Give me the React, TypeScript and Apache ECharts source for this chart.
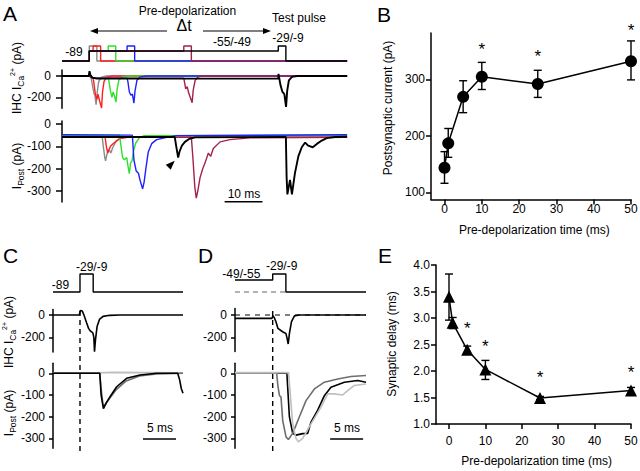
import React, { useEffect, useRef } from "react";
import * as echarts from "echarts";

const FONT = "'Liberation Sans', Arial, Helvetica, sans-serif";

// ---------- Panel B: postsynaptic current vs pre-depolarization time ----------
const preTimes = [0, 1, 5, 10, 25, 50];
const bMean = [143.5, 186.7, 269, 304.6, 291.7, 332];
const bUpper = [172, 213, 297.5, 330, 316, 368];
const bLower = [116, 162, 241, 282, 268, 299];
const bStars = [[10, 353], [25, 340], [50, 387]];
const bTicksY = [100, 200, 300];
const timeTicks = [0, 10, 20, 30, 40, 50];

// ---------- Panel E: synaptic delay vs pre-depolarization time ----------
const eMean = [3.4, 2.91, 2.4, 2.03, 1.49, 1.63];
const eUpper = [3.83, 3.01, 2.47, 2.2, 1.52, 1.69];
const eLower = [2.96, 2.8, 2.33, 1.84, 1.46, 1.57];
const eStars = [[5, 2.81], [10, 2.47], [25, 1.88], [50, 1.98]];

// ---------- Panel A: voltage protocols (levels: 0 = -89, 1 = pre, 1.5 = test) ----------
const aProtGray = [[-7.22, 0], [0, 0], [0, 1.5], [2, 1.5], [2, 0], [68.2, 0]];
const aProtRed = [[-7.22, 0], [0, 0], [0, 1], [1, 1], [1, 1.5], [3, 1.5], [3, 0], [68.2, 0]];
const aProtGreen = [[-7.22, 0], [0, 0], [0, 1], [5, 1], [5, 1.5], [7, 1.5], [7, 0], [68.2, 0]];
const aProtBlue = [[-7.22, 0], [0, 0], [0, 1], [10, 1], [10, 1.5], [12, 1.5], [12, 0], [68.2, 0]];
const aProtMaroon = [[-7.22, 0], [0, 0], [0, 1], [25, 1], [25, 1.5], [27, 1.5], [27, 0], [68.2, 0]];
const aProtBlack = [[-7.22, 0], [0, 0], [0, 1], [50, 1], [50, 1.5], [52, 1.5], [52, 0], [68.2, 0]];

// Panel A: IHC Ca current (ms, pA)
const aCaGray = [[-7.22, 2], [-0.1, 2], [0.05, 30], [0.3, 5], [0.6, -40], [1.0, -120], [1.3, -170], [1.5, -180], [1.8, -270], [2.1, -150], [2.5, -50], [3.2, -12], [4.5, 0], [68.2, 0]];
const aCaRed = [[-7.22, 0], [0, 0], [0.05, 30], [0.3, 0], [1.0, -20], [1.2, -60], [1.6, -170], [2.0, -220], [2.3, -170], [2.7, -230], [3.25, -300], [3.5, -150], [3.9, -50], [4.6, -10], [6, 0], [68.2, 0]];
const aCaGreen = [[-7.22, 0], [0, 0], [0.05, 25], [0.3, -10], [1, -20], [5, -20], [5.2, -50], [5.6, -140], [6.0, -200], [6.3, -150], [6.7, -190], [7.05, -245], [7.35, -130], [7.8, -40], [8.6, -10], [10, 0], [68.2, 0]];
const aCaBlue = [[-7.22, 0], [0, 0], [0.05, 25], [0.3, -10], [1, -20], [10, -20], [10.2, -50], [10.6, -150], [11.0, -180], [11.4, -170], [11.8, -255], [12.1, -140], [12.6, -40], [13.5, -8], [15, 0], [68.2, 0]];
const aCaMaroon = [[-7.22, 0], [0, 0], [0.05, 25], [0.3, -10], [1, -20], [25, -20], [25.2, -60], [25.5, -120], [25.9, -100], [26.3, -160], [26.7, -200], [27.2, -250], [27.5, -130], [28.0, -40], [28.8, -8], [30, 0], [68.2, 0]];
const aCaBlack = [[-7.22, 0], [-0.1, 0], [0.05, 45], [0.3, 10], [0.8, -15], [2, -25], [50, -25], [50.05, 20], [50.25, -20], [50.6, -90], [51.1, -150], [51.6, -170], [52.05, -290], [52.35, -140], [52.8, -40], [53.6, -8], [55, 0], [68.2, 0]];

// Panel A: postsynaptic current (ms, pA)
const aPostGray = [[-7.22, -55], [3.4, -55], [3.7, -100], [4.1, -150], [4.3, -165], [4.6, -140], [5.0, -115], [5.4, -120], [5.7, -130], [6.2, -105], [7.0, -80], [8.0, -65], [9.5, -57], [68.2, -55]];
const aPostRed = [[-7.22, -60], [4.2, -60], [4.5, -100], [4.9, -130], [5.2, -115], [5.6, -100], [6.3, -88], [7.0, -78], [8.1, -65], [10, -60], [68.2, -60]];
const aPostGreen = [[-7.22, -50], [8.0, -50], [8.4, -100], [8.8, -150], [9.3, -160], [9.9, -150], [10.3, -195], [10.6, -222], [10.9, -175], [11.3, -165], [11.7, -120], [12.3, -85], [13.2, -62], [14.5, -52], [68.2, -50]];
const aPostBlue = [[-7.22, -48], [11.4, -50], [11.8, -160], [12.4, -210], [13.0, -220], [13.4, -250], [14.1, -290], [14.5, -260], [15.0, -195], [15.6, -125], [16.5, -88], [17.8, -70], [20.5, -60], [23, -52], [68.2, -48]];
const aPostMaroon = [[-7.22, -60], [27.0, -60], [27.4, -150], [27.9, -280], [28.3, -332], [28.7, -300], [29.3, -240], [30.0, -200], [30.6, -175], [31.5, -130], [32.1, -145], [32.8, -110], [34.6, -80], [37.2, -70], [42.5, -62], [68.2, -60]];
const aPostBlack = [[-7.22, -58], [22.6, -58], [23.0, -100], [23.5, -150], [23.9, -122], [24.5, -97], [25.3, -80], [26.5, -66], [28, -60], [52.0, -58], [52.2, -240], [52.4, -315], [53.1, -250], [53.6, -315], [54.4, -220], [55.3, -145], [56.2, -104], [57.1, -83], [57.9, -97], [59.1, -104], [60.2, -89], [61.5, -74], [62.8, -63], [65, -58], [68.2, -57]];
const aArrowTip = [[22.6, -165]];
const aScaleBar = [[35.8, -348], [45.8, -348]];

// ---------- Panel C ----------
const cProt = [[-4.09, 0], [0, 0], [0, 1.5], [2, 1.5], [2, 0], [15.61, 0]];
const cCa = [[-4.09, 0], [-0.1, 0], [0.05, 40], [0.35, 35], [0.6, 0], [1.0, -70], [1.3, -120], [1.6, -145], [1.95, -160], [2.1, -200], [2.2, -330], [2.35, -220], [2.6, -100], [2.95, -40], [3.5, -12], [4.5, -3], [6, 0], [15.61, 0]];
const cPostLight = [[-4.09, 2], [2.6, 2], [5, 4], [15.61, 2]];
const cPostDark = [[-4.09, 0], [3.0, 0], [3.2, -70], [3.5, -150], [3.8, -145], [4.5, -115], [5.5, -75], [7.0, -35], [9.0, -12], [11.6, -3], [15.61, 0]];
const cPostBlack = [[-4.09, 0], [3.0, 0], [3.2, -100], [3.55, -163], [4.0, -135], [4.55, -108], [5.56, -62], [7.07, -23], [9.1, -8], [11.6, 0], [14.8, 0], [15.1, -30], [15.35, -70], [15.61, -92]];
const cOnset = [[0, 0], [0, 1]];
const cScaleBar = [[9.55, -303], [14.55, -303]];

// ---------- Panel D ----------
const dProtBlack = [[-5.71, 1], [0, 1], [0, 1.5], [2, 1.5], [2, 0], [14.14, 0]];
const dProtGray = [[-5.71, 0], [2, 0]];
const dCa = [[-5.71, -30], [-0.1, -30], [0.05, -5], [0.25, -25], [0.5, -60], [0.8, -120], [1.5, -150], [2.0, -165], [2.15, -200], [2.35, -260], [2.55, -160], [2.85, -60], [3.3, -8], [4, 0], [14.14, 0]];
const dCaZero = [[-5.71, 0], [14.14, 0]];
const dPostDark = [[-5.71, 0], [0.6, 0], [0.8, -60], [1.02, -102], [1.26, -110], [1.52, -218], [2.02, -293], [2.38, -305], [3.03, -277], [4.05, -200], [5.05, -126], [6.32, -72], [7.83, -41], [9.85, -26], [11.86, -15], [14.14, -10]];
const dPostBlack = [[-5.71, 0], [2.15, 0], [2.53, -200], [3.03, -277], [3.53, -285], [4.55, -278], [5.3, -277], [5.8, -225], [6.82, -170], [7.83, -103], [8.83, -64], [10.86, -41], [12.88, -33], [14.14, -41]];
const dPostLight = [[-5.71, 3], [2.4, 3], [3.03, -233], [3.53, -300], [3.89, -316], [4.55, -300], [5.8, -233], [7.32, -156], [8.33, -95], [9.33, -95], [10.6, -100], [11.36, -80], [12.38, -56], [14.14, -49]];
const dOnset = [[0, 0], [0, 1]];
const dScaleBar = [[8.7, -303], [13.7, -303]];

const caTicks = [0, -200];
const postTicks = [0, -100, -200, -300];

const COL = {
  gray: "#8a8a8a",
  red: "#ff1f1f",
  green: "#2ee02e",
  blue: "#1f1fff",
  maroon: "#a3204f",
  black: "#000000",
  dark: "#6e6e6e",
  light: "#bebebe",
};

function mkLine(gi: number, data: number[][], color: string, width = 1.3, type: any = "solid", z = 2) {
  return {
    type: "line",
    xAxisIndex: gi,
    yAxisIndex: gi,
    data,
    symbol: "none",
    showSymbol: false,
    lineStyle: { color, width, type },
    clip: false,
    silent: true,
    z,
  };
}

function hiddenAxis(gi: number, min: number, max: number) {
  return { type: "value", gridIndex: gi, min, max, show: false };
}

function traceY(gi: number, min: number, max: number, ticks: number[], tickLen: number, margin: number) {
  return {
    type: "value",
    gridIndex: gi,
    min,
    max,
    position: "left",
    axisLine: { show: true, onZero: false, lineStyle: { color: "#000", width: 1.5 } },
    axisTick: { show: true, length: tickLen, customValues: ticks, lineStyle: { color: "#000", width: 1.5 } },
    axisLabel: { show: true, customValues: ticks, margin, fontSize: 12, fontFamily: FONT, color: "#000" },
    splitLine: { show: false },
  };
}

function plotX(gi: number, min: number, margin: number) {
  return {
    type: "value",
    gridIndex: gi,
    min,
    max: 50,
    position: "bottom",
    axisLine: { show: true, onZero: false, lineStyle: { color: "#000", width: 1.5 } },
    axisTick: { show: true, length: 5, customValues: timeTicks, lineStyle: { color: "#000", width: 1.5 } },
    axisLabel: { show: true, customValues: timeTicks, margin, fontSize: 12, fontFamily: FONT, color: "#000" },
    splitLine: { show: false },
  };
}

function errorBars(gi: number, lower: number[], upper: number[]) {
  return {
    type: "custom",
    xAxisIndex: gi,
    yAxisIndex: gi,
    data: preTimes.map((t, i) => [t, lower[i], upper[i]]),
    clip: false,
    silent: true,
    z: 3,
    renderItem: (params: any, api: any) => {
      const x = api.value(0);
      const p1 = api.coord([x, api.value(1)]);
      const p2 = api.coord([x, api.value(2)]);
      const hw = 4;
      const st = { stroke: "#000", lineWidth: 1.4 };
      return {
        type: "group",
        children: [
          { type: "line", shape: { x1: p1[0], y1: p1[1], x2: p2[0], y2: p2[1] }, style: st },
          { type: "line", shape: { x1: p1[0] - hw, y1: p1[1], x2: p1[0] + hw, y2: p1[1] }, style: st },
          { type: "line", shape: { x1: p2[0] - hw, y1: p2[1], x2: p2[0] + hw, y2: p2[1] }, style: st },
        ],
      };
    },
  };
}

function stars(gi: number, data: number[][]) {
  return {
    type: "custom",
    xAxisIndex: gi,
    yAxisIndex: gi,
    data,
    clip: false,
    silent: true,
    z: 5,
    renderItem: (params: any, api: any) => {
      const p = api.coord([api.value(0), api.value(1)]);
      return {
        type: "text",
        x: p[0],
        y: p[1],
        style: {
          text: "*",
          fontSize: 17,
          fontFamily: FONT,
          fill: "#000",
          align: "center",
          verticalAlign: "middle",
        },
      };
    },
  };
}

function txt(x: number, y: number, text: string, size = 12, extra: any = {}) {
  return {
    type: "text",
    x,
    y,
    silent: true,
    style: { text, fontSize: size, fontFamily: FONT, fill: "#000", align: "center", verticalAlign: "middle", ...extra },
  };
}

function rotLabel(x: number, y: number, text: string) {
  return {
    type: "text",
    x,
    y,
    rotation: Math.PI / 2,
    silent: true,
    style: {
      text,
      fontSize: 12,
      fontFamily: FONT,
      fill: "#000",
      align: "center",
      verticalAlign: "middle",
      rich: {
        a: { fontSize: 12, fontFamily: FONT, lineHeight: 16, fill: "#000" },
        s: { fontSize: 8.5, fontFamily: FONT, lineHeight: 10, verticalAlign: "bottom", fill: "#000" },
        p: { fontSize: 7, fontFamily: FONT, lineHeight: 9, verticalAlign: "top", fill: "#000" },
      },
    },
  };
}

export default function App() {
  const ref = useRef<HTMLDivElement>(null);

  useEffect(() => {
    if (!ref.current) return;
    const chart = echarts.init(ref.current, null, { renderer: "svg" });

    const grids = [
      { left: 62, top: 41, width: 285, height: 20 }, // 0 A protocol
      { left: 62, top: 70, width: 285, height: 38.3 }, // 1 A Ca
      { left: 62, top: 121, width: 285, height: 81 }, // 2 A post
      { left: 431, top: 33, width: 200, height: 166.5 }, // 3 B
      { left: 53, top: 268, width: 130, height: 24 }, // 4 C protocol
      { left: 53, top: 309.5, width: 130, height: 42.5 }, // 5 C Ca
      { left: 53, top: 363.3, width: 130, height: 85 }, // 6 C post
      { left: 53, top: 310, width: 130, height: 141 }, // 7 C onset line
      { left: 235, top: 268, width: 131, height: 24 }, // 8 D protocol
      { left: 235, top: 308.5, width: 131, height: 43 }, // 9 D Ca
      { left: 235, top: 363.3, width: 131, height: 85 }, // 10 D post
      { left: 235, top: 309, width: 131, height: 142 }, // 11 D onset line
      { left: 436, top: 265, width: 195, height: 159 }, // 12 E
    ].map((g) => ({ ...g, containLabel: false, outerBoundsMode: "none", show: false }));

    const xAxes: any[] = [
      hiddenAxis(0, -7.22, 68.17),
      hiddenAxis(1, -7.22, 68.17),
      hiddenAxis(2, -7.22, 68.17),
      plotX(3, -3.62, 3),
      hiddenAxis(4, -4.09, 15.61),
      hiddenAxis(5, -4.09, 15.61),
      hiddenAxis(6, -4.09, 15.61),
      hiddenAxis(7, -4.09, 15.61),
      hiddenAxis(8, -5.71, 14.14),
      hiddenAxis(9, -5.71, 14.14),
      hiddenAxis(10, -5.71, 14.14),
      hiddenAxis(11, -5.71, 14.14),
      plotX(12, -3.57, 11),
    ];

    const yAxes: any[] = [
      hiddenAxis(0, 0, 2),
      traceY(1, -303, 56.3, caTicks, 6, 11),
      traceY(2, -349, 13.4, postTicks, 6, 11),
      {
        type: "value",
        gridIndex: 3,
        min: 87.3,
        max: 382,
        axisLine: { show: true, onZero: false, lineStyle: { color: "#000", width: 1.5 } },
        axisTick: { show: true, length: 5, customValues: bTicksY, lineStyle: { color: "#000", width: 1.5 } },
        axisLabel: { show: true, customValues: bTicksY, margin: 6, fontSize: 12, fontFamily: FONT, color: "#000" },
        splitLine: { show: false },
      },
      hiddenAxis(4, 0, 2),
      traceY(5, -331.8, 49.3, caTicks, 4, 8),
      traceY(6, -345.6, 46, postTicks, 4, 8),
      hiddenAxis(7, 0, 1),
      hiddenAxis(8, 0, 2),
      traceY(9, -327, 58.3, caTicks, 4, 8),
      traceY(10, -345.6, 46, postTicks, 4, 8),
      hiddenAxis(11, 0, 1),
      {
        type: "value",
        gridIndex: 12,
        min: 1,
        max: 4,
        interval: 0.5,
        axisLine: { show: true, onZero: false, lineStyle: { color: "#000", width: 1.5 } },
        axisTick: { show: true, length: 5, lineStyle: { color: "#000", width: 1.5 } },
        axisLabel: {
          show: true,
          margin: 6,
          fontSize: 12,
          fontFamily: FONT,
          color: "#000",
          formatter: (v: number) => v.toFixed(1),
        },
        splitLine: { show: false },
      },
    ];

    const series: any[] = [
      // A protocol
      mkLine(0, aProtGray, COL.gray, 1.4),
      mkLine(0, aProtRed, COL.red, 1.4),
      mkLine(0, aProtGreen, COL.green, 1.4),
      mkLine(0, aProtBlue, COL.blue, 1.4),
      mkLine(0, aProtMaroon, COL.maroon, 1.4),
      mkLine(0, aProtBlack, COL.black, 1.4),
      // A Ca
      mkLine(1, aCaGray, COL.gray, 1.4),
      mkLine(1, aCaRed, COL.red, 1.4),
      mkLine(1, aCaGreen, COL.green, 1.4),
      mkLine(1, aCaBlue, COL.blue, 1.4),
      mkLine(1, aCaMaroon, COL.maroon, 1.4),
      mkLine(1, aCaBlack, COL.black, 1.9),
      // A post
      mkLine(2, aPostGray, COL.gray, 1.4),
      mkLine(2, aPostRed, COL.red, 1.4),
      mkLine(2, aPostGreen, COL.green, 1.4),
      mkLine(2, aPostBlue, COL.blue, 1.4),
      mkLine(2, aPostMaroon, COL.maroon, 1.4),
      mkLine(2, aPostBlack, COL.black, 1.9),
      mkLine(2, aScaleBar, COL.black, 1.5),
      {
        type: "custom",
        xAxisIndex: 2,
        yAxisIndex: 2,
        data: aArrowTip,
        clip: false,
        silent: true,
        z: 4,
        renderItem: (params: any, api: any) => {
          const p = api.coord([api.value(0), api.value(1)]);
          return {
            type: "polygon",
            shape: { points: [[p[0], p[1]], [p[0] - 9, p[1] + 4], [p[0] - 4, p[1] + 9]] },
            style: { fill: "#000" },
          };
        },
      },
      // B
      errorBars(3, bLower, bUpper),
      {
        type: "line",
        xAxisIndex: 3,
        yAxisIndex: 3,
        data: preTimes.map((t, i) => [t, bMean[i]]),
        symbol: "circle",
        symbolSize: 12,
        showSymbol: true,
        itemStyle: { color: "#000" },
        lineStyle: { color: "#000", width: 1.5 },
        clip: false,
        silent: true,
        z: 4,
      },
      stars(3, bStars),
      // C
      mkLine(4, cProt, COL.black, 1.4),
      mkLine(5, cCa, COL.black, 1.6),
      mkLine(6, cPostLight, COL.light, 1.6),
      mkLine(6, cPostDark, COL.dark, 1.6),
      mkLine(6, cPostBlack, COL.black, 1.6),
      mkLine(6, cScaleBar, COL.black, 1.5),
      mkLine(7, cOnset, COL.black, 1.4, [5, 4], 6),
      // D
      mkLine(8, dProtGray, "#9a9a9a", 1.3, [5, 4]),
      mkLine(8, dProtBlack, COL.black, 1.4),
      mkLine(9, dCaZero, COL.black, 1.2, [5, 5]),
      mkLine(9, dCa, COL.black, 1.6),
      mkLine(10, dPostBlack, COL.black, 1.6),
      mkLine(10, dPostDark, COL.dark, 1.6),
      mkLine(10, dPostLight, COL.light, 1.6),
      mkLine(10, dScaleBar, COL.black, 1.5),
      mkLine(11, dOnset, COL.black, 1.4, [5, 4], 6),
      // E
      errorBars(12, eLower, eUpper),
      {
        type: "line",
        xAxisIndex: 12,
        yAxisIndex: 12,
        data: preTimes.map((t, i) => [t, eMean[i]]),
        symbol: "triangle",
        symbolSize: 12,
        showSymbol: true,
        itemStyle: { color: "#000" },
        lineStyle: { color: "#000", width: 1.5 },
        clip: false,
        silent: true,
        z: 4,
      },
      stars(12, eStars),
    ];

    const graphic: any[] = [
      // panel letters
      txt(10, 13, "A", 21),
      txt(384, 14, "B", 21),
      txt(10.5, 255, "C", 21),
      txt(205.5, 255, "D", 21),
      txt(385, 255, "E", 21),
      // panel A annotations
      txt(187.5, 11, "Pre-depolarization", 12),
      txt(184, 25, "Δt", 16),
      txt(299, 17.5, "Test pulse", 12),
      txt(232, 42, "-55/-49", 12),
      txt(288, 38, "-29/-9", 12),
      txt(74, 52, "-89", 12),
      { type: "line", silent: true, shape: { x1: 96, y1: 31, x2: 167, y2: 31 }, style: { stroke: "#000", lineWidth: 1.2 } },
      { type: "polygon", silent: true, shape: { points: [[90, 31], [98, 28], [98, 34]] }, style: { fill: "#000" } },
      { type: "line", silent: true, shape: { x1: 203, y1: 31, x2: 265, y2: 31 }, style: { stroke: "#000", lineWidth: 1.2 } },
      { type: "polygon", silent: true, shape: { points: [[271, 31], [263, 28], [263, 34]] }, style: { fill: "#000" } },
      rotLabel(17, 78, "{a|IHC I}{s|Ca}{p|2+}{a| (pA)}"),
      rotLabel(17, 166, "{a|I}{s|Post}{a| (pA)}"),
      txt(244, 194, "10 ms", 12),
      // panel C annotations
      txt(60.5, 285, "-89", 12),
      txt(91.7, 266.7, "-29/-9", 12),
      rotLabel(9, 332, "{a|IHC I}{s|Ca}{p|2+}{a| (pA)}"),
      rotLabel(9, 413, "{a|I}{s|Post}{a| (pA)}"),
      txt(160, 428, "5 ms", 12),
      // panel D annotations
      txt(241.3, 274.3, "-49/-55", 12),
      txt(281.7, 266, "-29/-9", 12),
      txt(347, 428, "5 ms", 12),
      // B and E axis names
      txt(534.3, 230, "Pre-depolarization time (ms)", 12),
      { ...txt(388.3, 108, "Postsynaptic current (pA)", 12), rotation: Math.PI / 2 },
      txt(536.7, 460.7, "Pre-depolarization time (ms)", 12),
      { ...txt(391.7, 344, "Synaptic delay (ms)", 12), rotation: Math.PI / 2 },
    ];

    chart.setOption({
      animation: false,
      backgroundColor: "#ffffff",
      textStyle: { fontFamily: FONT },
      grid: grids,
      xAxis: xAxes,
      yAxis: yAxes,
      series,
      graphic,
    });

    return () => chart.dispose();
  }, []);

  return (
    <div
      ref={ref}
      style={{ position: "fixed", left: 0, top: 0, width: 640, height: 471, background: "#fff" }}
    />
  );
}
